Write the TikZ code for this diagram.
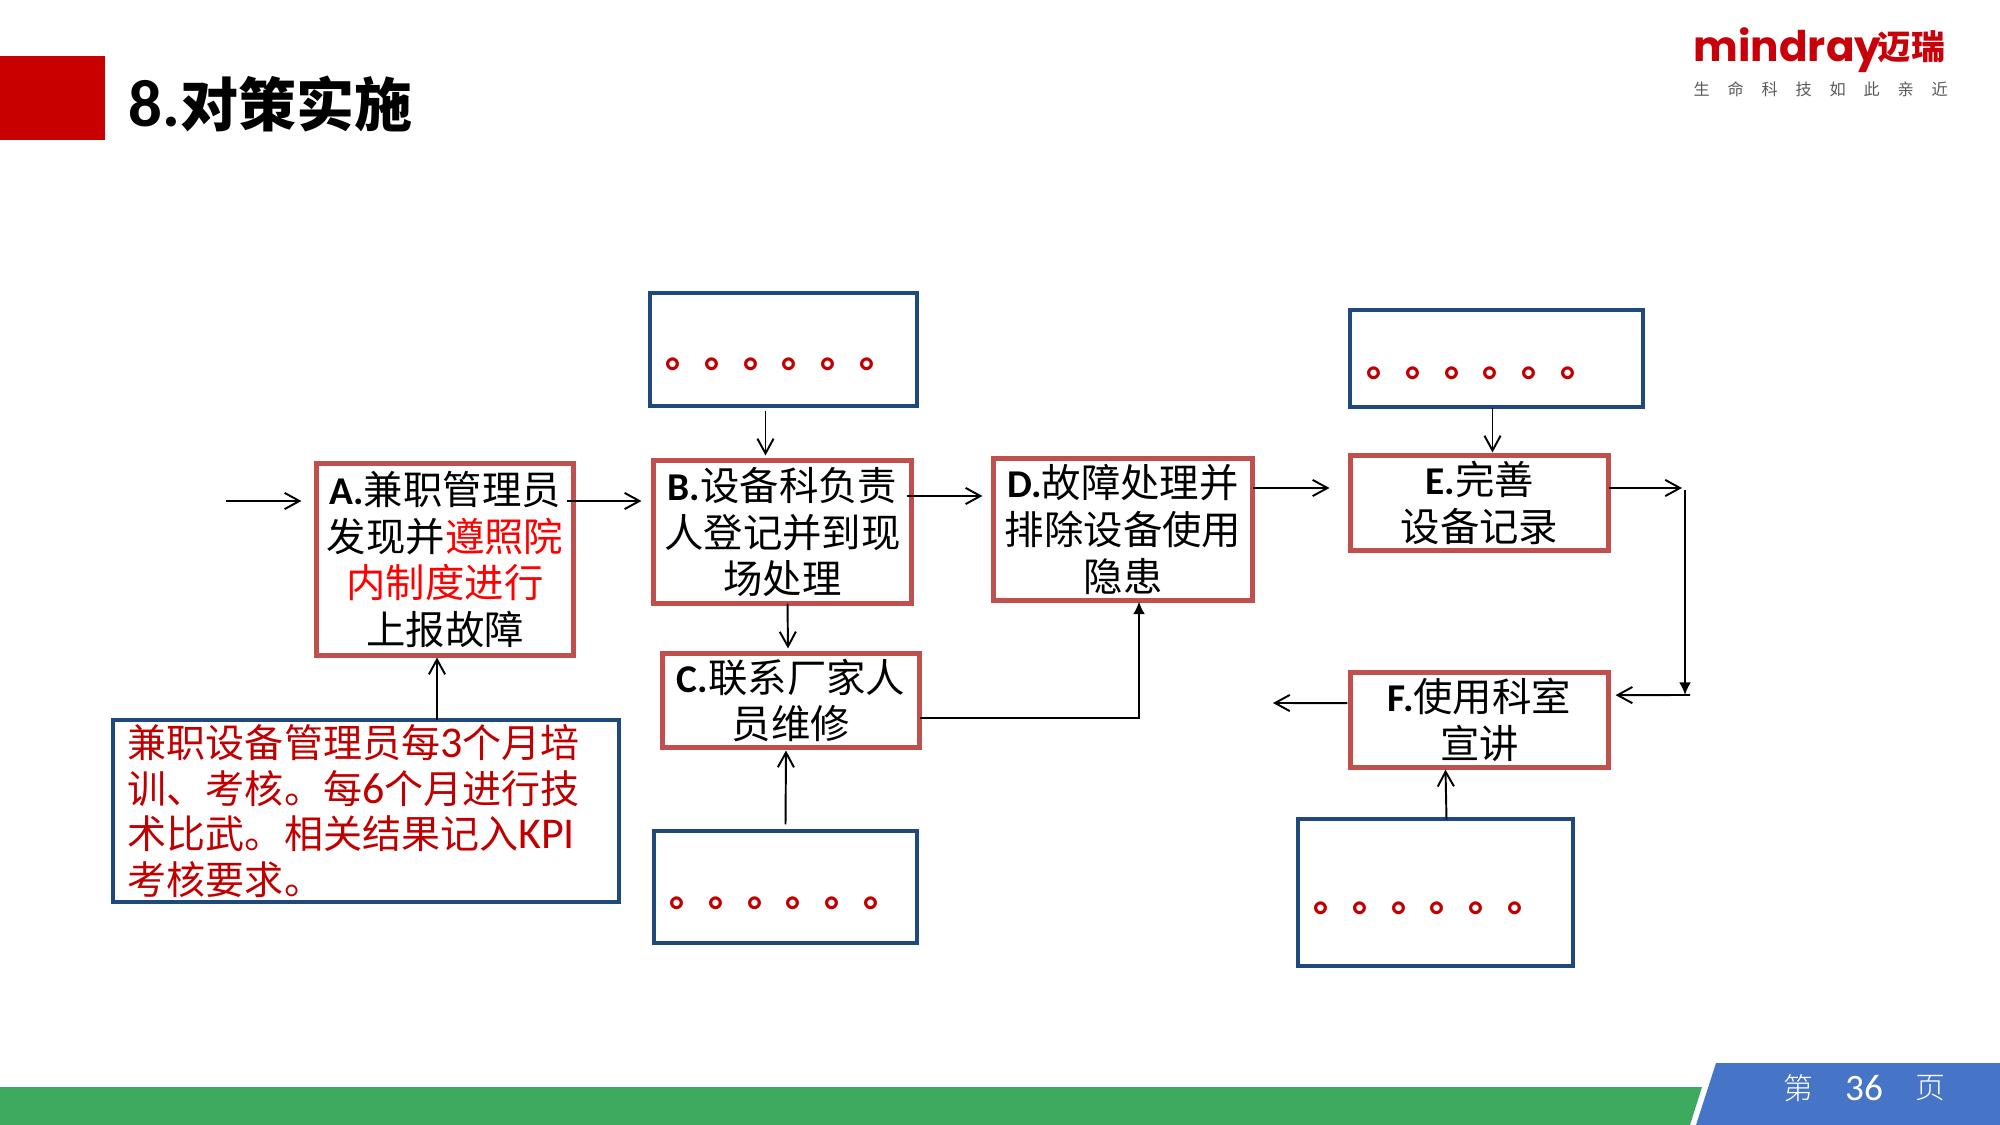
\documentclass[tikz,border=0pt]{standalone}
\usepackage{fontspec}
\setmainfont{Carlito}
\newfontfamily\cjkfamily{Noto Sans CJK SC}
\newfontfamily\thinfamily{Noto Sans CJK SC Light}
\newfontfamily\logofamily{Poppins}
\newcommand{\cn}[1]{{\cjkfamily #1}}
\newcommand{\mn}[1]{{\fontsize{12.5}{13}\selectfont #1}}
\usetikzlibrary{calc,positioning,arrows.meta}
\definecolor{boxred}{HTML}{C0504D}
\definecolor{boxblue}{HTML}{1F497D}
\definecolor{notered}{HTML}{C00000}
\definecolor{logored}{HTML}{C8000A}
\definecolor{barred}{HTML}{C80000}
\definecolor{bargreen}{HTML}{3DAA5F}
\definecolor{barblue}{HTML}{4674C6}
\tikzset{
  >={Straight Barb[length=4.2pt,width=4.6pt]},
  flowbox/.style={
    rectangle,
    draw=boxred, line width=1.4pt,
    inner sep=0pt, outer sep=0pt,
    align=center,
    font=\fontsize{11.2}{13.3}\selectfont},
  blankbox/.style={
    rectangle,
    draw=boxblue, line width=1.15pt,
    inner sep=0pt, outer sep=0pt},
  dotrow/.style={
    anchor=base west, inner sep=0pt,
    text=notered,
    font=\fontsize{11}{13.3}\selectfont\cjkfamily\bfseries},
  line/.style={draw, line width=0.55pt, ->},
  solidline/.style={draw, line width=0.55pt, -{Latex[length=3.6pt,width=3.4pt]}},
}
\begin{document}
\begin{tikzpicture}[x=0.01cm,y=-0.01cm]
    \useasboundingbox (0,0) rectangle (2000,1125);

    % header and footer
    \fill[barred] (0,56) rectangle (105,140);
    \node[anchor=base west, inner sep=0pt] (title) at (128,127)
        {\fontsize{19}{19}\selectfont\bfseries 8.\fontsize{16.5}{19}\selectfont\cjkfamily 对策实施};
    \fill[bargreen] (0,1087) -- (1702,1087) -- (1690,1125) -- (0,1125) -- cycle;
    \fill[barblue] (1716,1063) -- (2000,1063) -- (2000,1125) -- (1696,1125) -- cycle;
    \node[text=white, inner sep=0pt, font=\fontsize{8.5}{10}\selectfont\thinfamily] (pagea) at (1798,1088) {第};
    \node[text=white, inner sep=0pt, font=\fontsize{10.6}{10}\selectfont] (pagenum) at (1864,1088) {36};
    \node[text=white, inner sep=0pt, font=\fontsize{8.5}{10}\selectfont\thinfamily] (pageb) at (1930,1088) {页};

    % logo
    \node[anchor=base west, inner sep=0pt, text=logored, font=\fontsize{12}{14}\selectfont\logofamily\bfseries] (logoname) at (1693,62) {mindray};
    \node[anchor=base west, inner sep=0pt, text=logored, font=\fontsize{9.6}{14}\selectfont\cjkfamily\bfseries] (logocn) at (1877,60) {迈瑞};
    \node[anchor=base west, inner sep=0pt, text=black!65, font=\fontsize{4.6}{6}\selectfont\cjkfamily\addfontfeature{LetterSpace=110}] (logosub) at (1693,96) {生命科技如此亲近};

    % flow boxes
    \node[flowbox, minimum width=2.57cm, minimum height=1.92cm] (boxA) at (445,559.5)
        {\textbf{A.}\cn{兼职管理员}\\\cn{发现并\textcolor{red}{遵照院}}\\\cn{\textcolor{red}{内制度进行}}\\\cn{上报故障}};
    \node[flowbox, minimum width=2.58cm, minimum height=1.43cm] (boxB) at (782.5,532)
        {\textbf{B.}\cn{设备科负责}\\\cn{人登记并到现}\\\cn{场处理}};
    \node[flowbox, minimum width=2.57cm, minimum height=0.94cm] (boxC) at (791,700.5)
        {\textbf{C.}\cn{联系厂家人}\\\cn{员维修}};
    \node[flowbox, minimum width=2.59cm, minimum height=1.42cm] (boxD) at (1123,529.5)
        {\textbf{D.}\cn{故障处理并}\\\cn{排除设备使用}\\\cn{隐患}};
    \node[flowbox, minimum width=2.58cm, minimum height=0.95cm] (boxE) at (1479.5,503)
        {\textbf{E.}\cn{完善}\\\cn{设备记录}};
    \node[flowbox, minimum width=2.58cm, minimum height=0.95cm, below of=boxE, node distance=2.17cm] (boxF)
        {\textbf{F.}\cn{使用科室}\\\cn{宣讲}};

    % blank boxes
    \node[blankbox, minimum width=2.66cm, minimum height=1.12cm] (blankB) at (783.5,349.5) {};
    \node[blankbox, minimum width=2.92cm, minimum height=0.96cm] (blankE) at (1496.5,358.5) {};
    \node[blankbox, minimum width=2.62cm, minimum height=1.11cm] (blankC) at (785.5,887) {};
    \node[blankbox, minimum width=2.74cm, minimum height=1.46cm] (blankF) at (1435.5,892.5) {};
    \node[dotrow] (dotsB) at (665,368) {。。。。。。};
    \node[dotrow] (dotsE) at (1366,377) {。。。。。。};
    \node[dotrow] (dotsC) at (669,906) {。。。。。。};
    \node[dotrow] (dotsF) at (1313,911) {。。。。。。};

    \node[blankbox, minimum width=5.05cm, minimum height=1.81cm, text=notered, align=left, text width=4.76cm,
        font=\fontsize{11.1}{13}\selectfont] (memo) at (366,811)
        {\cn{兼职设备管理员每}\mn{3}\cn{个月培}\\\cn{训、考核。每}\mn{6}\cn{个月进行技}\\\cn{术比武。相关结果记入}\mn{KPI}\\\cn{考核要求。}};

    % free ends
    \coordinate (start) at (226,501);
    \coordinate (endE) at (1682,488);
    \coordinate (turnT) at (1685,490);
    \coordinate (turnB) at (1685,695);
    \coordinate (endF) at (1273,703);

    \draw[line] (start) -- ($(boxA.west)+(-15,-58.5)$);
    \draw[line] ($(boxA.east)+(-7,-58.5)$) -- ($(boxB.west)+(-12,-31)$);
    \draw[line] ($(boxB.east)+(-5,-36)$) -- ($(boxD.west)+(-11,-33.5)$);
    \draw[line] ($(boxD.east)+(0,-41.5)$) -- ($(boxE.west)+(-21,-15)$);
    \draw[line] ($(boxE.east)+(0,-15)$) -- (endE);
    \draw[solidline] (turnT) -- (turnB);
    \draw[line] ($(turnB)+(5,0)$) -- ($(boxF.east)+(7,-25)$);
    \draw[line] ($(boxF.west)+(-3,-17)$) -- (endF);
    \draw[line] ($(blankB.south)+(-18,5)$) -- ($(boxB.north)+(-17,-5)$);
    \draw[line] ($(blankE.south)+(-4,1)$) -- ($(boxE.north)+(13,-3)$);
    \draw[line] ($(boxB.south)+(5,0)$) -- ($(boxC.north)+(-3,-5)$);
    \draw[line] ($(blankC.north)+(0,-7)$) -- ($(boxC.south)+(-5,3)$);
    \draw[line] ($(blankF.north)+(11,0)$) -- ($(boxF.south)+(-34,2)$);
    \draw[line] ($(memo.north)+(71,0)$) -- ($(boxA.south)+(-8,2)$);
    \draw[solidline] (boxC.east) ++(0,17.5) -| ($(boxD.south)+(16,1)$);
\end{tikzpicture}
\end{document}
